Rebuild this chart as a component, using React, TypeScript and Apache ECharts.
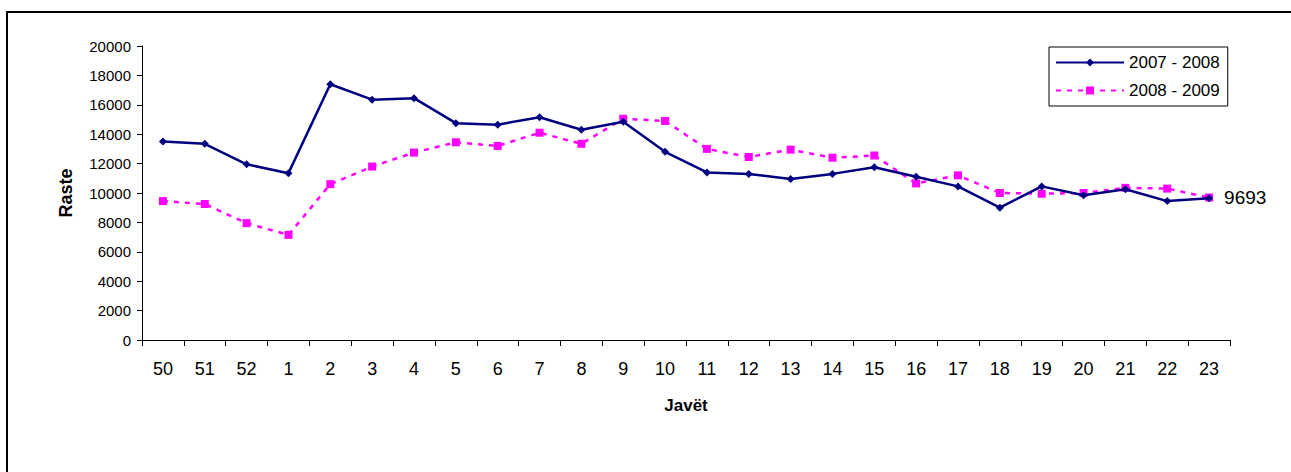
import React, { useEffect, useRef } from "react";
import * as echarts from "echarts";

const weeks = ["50", "51", "52", "1", "2", "3", "4", "5", "6", "7", "8", "9", "10", "11", "12", "13", "14", "15", "16", "17", "18", "19", "20", "21", "22", "23"];
const seasonA = "2007 - 2008";
const seasonB = "2008 - 2009";
const valuesA = [13500, 13350, 11950, 11350, 17400, 16350, 16450, 14750, 14650, 15150, 14300, 14850, 12800, 11400, 11300, 10950, 11300, 11750, 11100, 10450, 9000, 10450, 9850, 10250, 9450, 9650];
const valuesB = [9450, 9250, 7950, 7150, 10600, 11800, 12750, 13450, 13200, 14100, 13350, 15050, 14900, 13000, 12450, 12950, 12400, 12550, 10650, 11200, 10000, 9950, 10000, 10350, 10300, 9693];
const yMin = 0;
const yMax = 20000;
const yStep = 2000;
const yTitle = "Raste";
const xTitle = "Javët";

const FONT = "'Liberation Sans', Arial, sans-serif";

export default function App() {
  const ref = useRef<HTMLDivElement>(null);
  useEffect(() => {
    if (!ref.current) return;
    const chart = echarts.init(ref.current, undefined, { renderer: "svg" });
    const lastB = valuesB.length - 1;
    const dataB = valuesB.map((v, i) =>
      i === lastB
        ? {
            value: v,
            label: {
              show: true,
              position: "right",
              distance: 11,
              formatter: String(v),
              color: "#000",
              fontSize: 19,
              fontFamily: FONT,
            },
          }
        : v
    );
    chart.setOption({
      animation: false,
      backgroundColor: "#fff",
      textStyle: { fontFamily: FONT },
      graphic: [
        {
          type: "rect",
          shape: { x: 7, y: 12, width: 1320, height: 520 },
          style: { fill: "none", stroke: "#000", lineWidth: 2 },
          silent: true,
        },
      ],
      grid: { left: 142, right: 61, top: 46, bottom: 132, containLabel: false },
      legend: {
        orient: "vertical",
        left: 1049,
        top: 47,
        itemWidth: 68,
        itemHeight: 10,
        itemGap: 11,
        padding: [7, 8, 7, 6],
        borderColor: "#000",
        borderWidth: 1,
        backgroundColor: "#fff",
        textStyle: { fontSize: 17, color: "#000", fontFamily: FONT },
        data: [seasonA, seasonB],
      },
      xAxis: {
        type: "category",
        data: weeks,
        boundaryGap: true,
        name: xTitle,
        nameLocation: "middle",
        nameGap: 57,
        nameTextStyle: { fontSize: 17, fontWeight: "bold", color: "#000", fontFamily: FONT },
        axisLine: { show: true, lineStyle: { color: "#000", width: 1 } },
        axisTick: { show: true, length: 6, lineStyle: { color: "#000" }, alignWithLabel: false },
        axisLabel: { fontSize: 18, color: "#000", margin: 20, interval: 0, fontFamily: FONT },
        splitLine: { show: false },
      },
      yAxis: {
        type: "value",
        min: yMin,
        max: yMax,
        interval: yStep,
        name: yTitle,
        nameLocation: "middle",
        nameRotate: 90,
        nameGap: 67,
        nameTextStyle: { fontSize: 18, fontWeight: "bold", color: "#000", fontFamily: FONT },
        axisLine: { show: true, lineStyle: { color: "#000", width: 1 } },
        axisTick: { show: true, length: 5, lineStyle: { color: "#000" } },
        axisLabel: {
          fontSize: 15,
          color: "#000",
          margin: 11,
          fontFamily: FONT,
          formatter: (v: number) => String(v),
        },
        splitLine: { show: false },
      },
      series: [
        {
          name: seasonA,
          type: "line",
          data: valuesA,
          symbol: "diamond",
          symbolSize: 8,
          color: "#000080",
          lineStyle: { color: "#000080", width: 2.5 },
          itemStyle: { color: "#000080" },
          z: 3,
        },
        {
          name: seasonB,
          type: "line",
          data: dataB,
          symbol: "rect",
          symbolSize: 8,
          color: "#FF00FF",
          lineStyle: { color: "#FF00FF", width: 2.5, type: [5, 6] },
          itemStyle: { color: "#FF00FF" },
          z: 2,
        },
      ],
    });
    return () => chart.dispose();
  }, []);
  return (
    <div
      ref={ref}
      style={{ position: "absolute", left: 0, top: 0, width: 1291, height: 472, background: "#fff" }}
    />
  );
}
